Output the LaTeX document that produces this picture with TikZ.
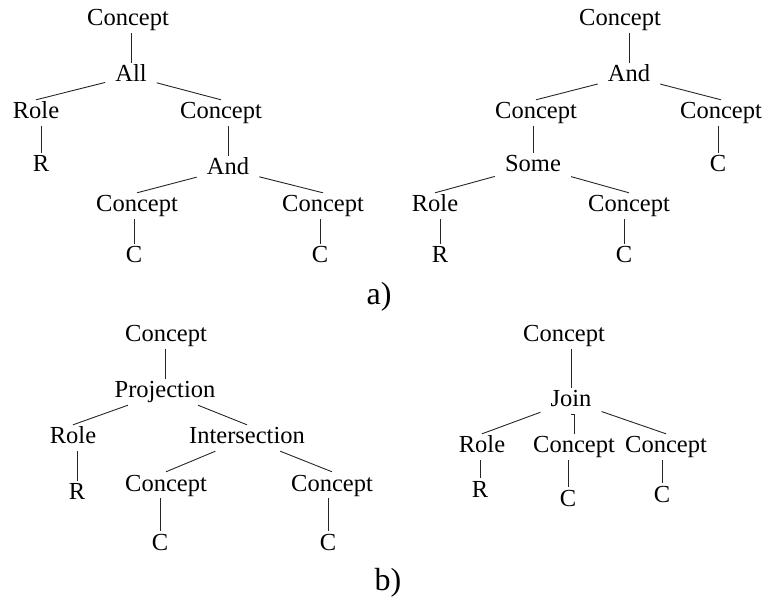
\documentclass[tikz,border=0pt]{standalone}
\usepackage{fontspec}
\setmainfont{Liberation Serif}
\usetikzlibrary{calc}

\begin{document}
\begin{tikzpicture}[x=1pt,y=-1pt,
  tn/.style={anchor=base, font=\fontsize{24.5}{29}\selectfont, text height=17pt, text depth=5pt, inner xsep=10pt, inner ysep=2pt},
  lbl/.style={anchor=base, font=\fontsize{32}{38}\selectfont},
  edge/.style={line width=0.9pt, black!85}]
\useasboundingbox (0,0) rectangle (766,601);
% a) left tree
\node[tn] (c1) at (128,26) {Concept};
\node[tn] (all) at (131,82) {All};
\node[tn] (role1) at (36,119) {Role};
\node[tn] (r1) at (41,172) {R};
\node[tn] (c2) at (221,119) {Concept};
\node[tn] (and1) at (228,175) {And};
\node[tn] (c3) at (137,212) {Concept};
\node[tn] (cc1) at (134,263) {C};
\node[tn] (c4) at (323,212) {Concept};
\node[tn] (cc2) at (320,263) {C};
\draw[edge] (all.north) -- (all.north |- c1.south);
\draw[edge] (all) -- (role1.north);
\draw[edge] (all) -- (c2.north);
\draw[edge] (r1.north) -- (r1.north |- role1.south);
\draw[edge] (and1.north) -- (and1.north |- c2.south);
\draw[edge] (and1) -- (c3.north);
\draw[edge] (and1) -- (c4.north);
\draw[edge] (cc1.north) -- (cc1.north |- c3.south);
\draw[edge] (cc2.north) -- (cc2.north |- c4.south);
% a) right tree
\node[tn] (d1) at (620,26) {Concept};
\node[tn] (and2) at (629,82) {And};
\node[tn] (d2) at (536,119) {Concept};
\node[tn] (some) at (533,172) {Some};
\node[tn] (d3) at (721,119) {Concept};
\node[tn] (cc3) at (718,172) {C};
\node[tn] (role2) at (435,212) {Role};
\node[tn] (r2) at (440,263) {R};
\node[tn] (d4) at (629,212) {Concept};
\node[tn] (cc4) at (624,263) {C};
\draw[edge] (and2.north) -- (and2.north |- d1.south);
\draw[edge] (and2) -- (d2.north);
\draw[edge] (and2) -- (d3.north);
\draw[edge] (some.north) -- (some.north |- d2.south);
\draw[edge] (cc3.north) -- (cc3.north |- d3.south);
\draw[edge] (some) -- (role2.north);
\draw[edge] (some) -- (d4.north);
\draw[edge] (r2.north) -- (r2.north |- role2.south);
\draw[edge] (cc4.north) -- (cc4.north |- d4.south);
\node[lbl] (la) at (379,305) {a)};
% b) left tree
\node[tn] (e1) at (166,342) {Concept};
\node[tn] (proj) at (165,398) {Projection};
\node[tn] (role3) at (73,444) {Role};
\node[tn] (r3) at (77,500) {R};
\node[tn] (inter) at (247,444) {Intersection};
\node[tn] (e2) at (166,491) {Concept};
\node[tn] (cc5) at (160,550) {C};
\node[tn] (e3) at (332,491) {Concept};
\node[tn] (cc6) at (328,550) {C};
\draw[edge] (proj.north) -- (proj.north |- e1.south);
\draw[edge] (proj) -- (role3.north);
\draw[edge] (proj) -- (inter.north);
\draw[edge] (r3.north) -- (r3.north |- role3.south);
\draw[edge] (inter) -- (e2.north);
\draw[edge] (inter) -- (e3.north);
\draw[edge] (cc5.north) -- (cc5.north |- e2.south);
\draw[edge] (cc6.north) -- (cc6.north |- e3.south);
% b) right tree
\node[tn] (f1) at (564,342) {Concept};
\node[tn] (join) at (571,407) {Join};
\node[tn] (role4) at (482,453) {Role};
\node[tn] (r4) at (480,497) {R};
\node[tn] (f2) at (574,453) {Concept};
\node[tn] (cc7) at (568,506) {C};
\node[tn] (f3) at (666,453) {Concept};
\node[tn] (cc8) at (662,502) {C};
\draw[edge] (join.north) -- (join.north |- f1.south);
\draw[edge] (join) -- (role4.north);
\draw[edge] (join.south) -- (join.south -| f2.north) -- (f2.north);
\draw[edge] (join) -- (f3.north);
\draw[edge] (r4.north) -- (r4.north |- role4.south);
\draw[edge] (cc7.north) -- (cc7.north |- f2.south);
\draw[edge] (cc8.north) -- (cc8.north |- f3.south);
\node[lbl] (lb) at (388,590) {b)};
\end{tikzpicture}
\end{document}
